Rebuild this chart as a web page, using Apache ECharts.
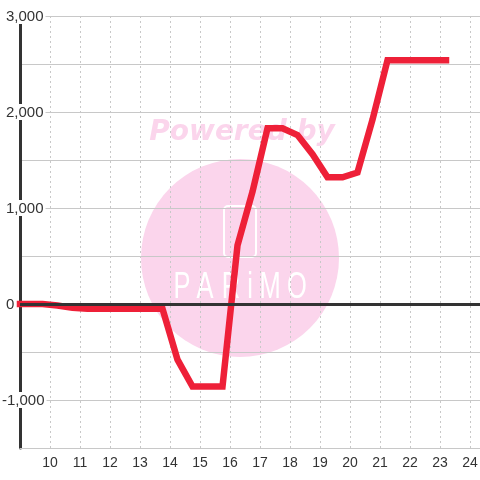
<!DOCTYPE html>
<html>
<head>
<meta charset="utf-8">
<script src="https://cdn.jsdelivr.net/npm/echarts@6/dist/echarts.min.js"></script>
<style>html,body{margin:0;padding:0;background:#fff}#c{width:480px;height:480px}</style>
</head>
<body>
<div id="c"></div>
<script>
// Hours (x) and values (y)
var hours  = [9.0, 9.75, 10.25, 10.75, 11.25, 11.75, 12.25, 12.75, 13.25, 13.75, 14.25, 14.75, 15.25, 15.75, 16.25, 16.75, 17.25, 17.75, 18.25, 18.75, 19.25, 19.75, 20.25, 20.75, 21.25, 21.75, 22.25, 22.75, 23.2];
var values = [0, 0, -15, -40, -50, -50, -50, -50, -50, -50, -580, -860, -860, -860, 610, 1170, 1830, 1830, 1760, 1560, 1320, 1320, 1370, 1920, 2540, 2540, 2540, 2540, 2540];
var xTickLabels = [10, 11, 12, 13, 14, 15, 16, 17, 18, 19, 20, 21, 22, 23, 24];
var yTickLabels = [-1000, 0, 1000, 2000, 3000];

var chart = echarts.init(document.getElementById('c'));
var font = 'Liberation Sans, Arial, sans-serif';
function fmt(v){ return String(v).replace(/\B(?=(\d{3})+(?!\d))/g, ','); }

var logoLetters = [['P', 182], ['A', 205], ['R', 231], ['i', 250], ['M', 270], ['O', 297]];
var graphics = [
  { type: 'circle', z: -10, shape: { cx: 240, cy: 258, r: 99 }, style: { fill: '#fbd5ec' } },
  { type: 'text', z: -10, x: 242, y: 133, style: { text: 'Powered by', fill: '#fbd5ec', font: 'italic bold 28px "DejaVu Sans"', align: 'center', verticalAlign: 'middle' } },
  { type: 'rect', z: -9, shape: { x: 224, y: 206, width: 32, height: 51, r: 4 }, style: { fill: 'none', stroke: '#ffffff', lineWidth: 2 } }
];
logoLetters.forEach(function(l){
  graphics.push({ type: 'text', z: -9, x: l[1], y: 288, scaleX: 0.75, scaleY: 1.1,
    style: { text: l[0], fill: '#ffffff', font: 'normal 34px "Liberation Sans"', align: 'center', verticalAlign: 'middle' } });
});

chart.setOption({
  animation: false,
  backgroundColor: '#ffffff',
  grid: { left: 20, right: 0, top: 16, bottom: 32, containLabel: false, outerBoundsMode: 'none' },
  graphic: graphics,
  xAxis: {
    type: 'value', min: 9, max: 24.3333, interval: 1,
    axisLine: { show: true, onZero: false, lineStyle: { color: '#c8c8c8', width: 1 } },
    axisTick: { show: false },
    axisLabel: {
      color: '#333', fontSize: 14, fontFamily: font, margin: 8,
      formatter: function(v){ return xTickLabels.indexOf(v) >= 0 ? String(v) : ''; }
    },
    splitLine: { show: true, lineStyle: { color: '#c8c8c8', type: [2, 3], width: 1 } }
  },
  yAxis: {
    type: 'value', min: -1500, max: 3000, interval: 500,
    axisLine: { show: true, lineStyle: { color: '#333', width: 3 } },
    axisTick: { show: false },
    axisLabel: {
      margin: 18, align: 'left',
      formatter: function(v){
        if (yTickLabels.indexOf(v) < 0) return '';
        return (v < 0 ? '{n|' : '{a|') + fmt(v) + '}';
      },
      rich: {
        a: { color: '#333', fontSize: 15, fontFamily: font, backgroundColor: '#ffffff', padding: [1, 2, 0, 4] },
        n: { color: '#333', fontSize: 15, fontFamily: font, backgroundColor: '#ffffff', padding: [1, 2, 0, 0] }
      }
    },
    splitLine: { show: true, lineStyle: { color: '#c8c8c8', width: 1 } }
  },
  series: [{
    type: 'line',
    data: hours.map(function(h, i){ return [h, values[i]]; }),
    showSymbol: false,
    clip: false,
    lineStyle: { color: '#ee2038', width: 6.5, join: 'miter', cap: 'square' },
    markLine: {
      silent: true, symbol: 'none', label: { show: false },
      lineStyle: { color: '#333', width: 3, type: 'solid' },
      data: [{ yAxis: 0 }]
    }
  }]
});
</script>
</body>
</html>
